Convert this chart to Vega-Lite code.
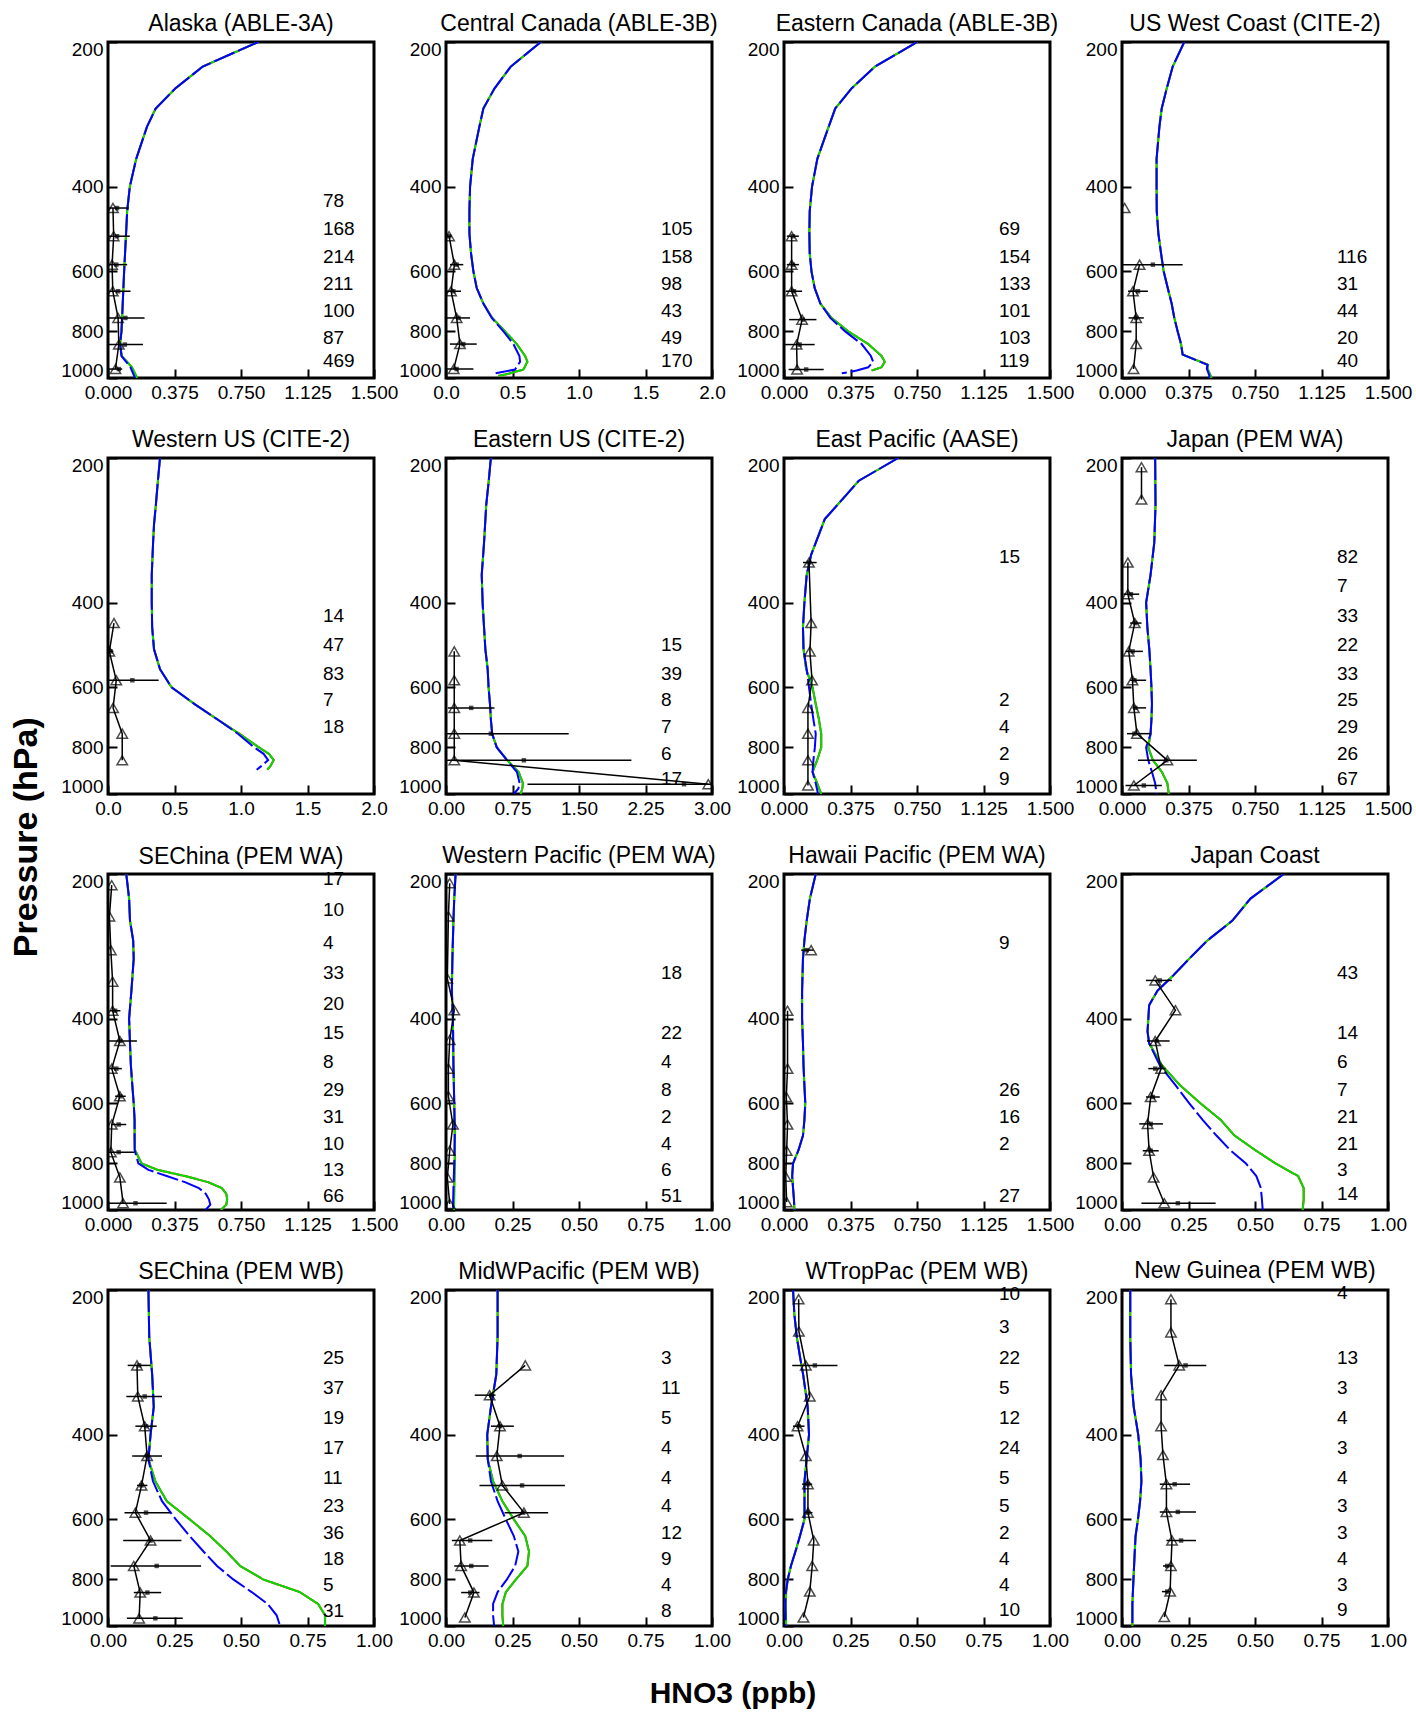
{
"$schema": "https://vega.github.io/schema/vega-lite/v6.json",
"padding": {"left": 10, "top": 11, "right": 5, "bottom": 5},
"autosize": {"type": "pad"},
"title": {"text": "Pressure (hPa)", "orient": "left", "anchor": "middle", "fontSize": 34, "fontWeight": "bold", "offset": 15, "dx": 24},
"datasets": {
"meta": [
{"id":1,"date":"Jul,1988"},{"id":2,"date":"Jul,1990"},{"id":3,"date":"Jul,1990"},{"id":4,"date":"Aug,1986"},
{"id":5,"date":"Aug,1986"},{"id":6,"date":"Aug,1986"},{"id":7,"date":"Feb,1989"},{"id":8,"date":"Oct,1991"},
{"id":9,"date":"Oct,1991"},{"id":10,"date":"Oct,1991"},{"id":11,"date":"Oct,1991"},{"id":12,"date":"Feb,1994"},
{"id":13,"date":"Feb,1994"},{"id":14,"date":"Feb,1994"},{"id":15,"date":"Feb,1994"},{"id":16,"date":"Feb,1994"}
],
"model": [
{"id":1,"p":200,"r":0.847,"g":0.847,"b":0.847},{"id":1,"p":225,"r":0.534,"g":0.534,"b":0.534},{"id":1,"p":250,"r":0.379,"g":0.379,"b":0.379},{"id":1,"p":275,"r":0.269,"g":0.269,"b":0.269},{"id":1,"p":300,"r":0.22,"g":0.22,"b":0.22},{"id":1,"p":350,"r":0.159,"g":0.159,"b":0.159},{"id":1,"p":400,"r":0.123,"g":0.123,"b":0.123},{"id":1,"p":450,"r":0.108,"g":0.108,"b":0.108},{"id":1,"p":500,"r":0.102,"g":0.102,"b":0.102},{"id":1,"p":600,"r":0.091,"g":0.091,"b":0.091},{"id":1,"p":700,"r":0.083,"g":0.083,"b":0.083},{"id":1,"p":800,"r":0.076,"g":0.076,"b":0.076},{"id":1,"p":850,"r":0.068,"g":0.068,"b":0.068},{"id":1,"p":900,"r":0.078,"g":0.078,"b":0.076},{"id":1,"p":950,"r":0.135,"g":0.135,"b":0.127},{"id":1,"p":1000,"r":0.165,"g":0.165,"b":0.152},
{"id":2,"p":200,"r":0.713,"g":0.713,"b":0.713},{"id":2,"p":225,"r":0.487,"g":0.487,"b":0.487},{"id":2,"p":250,"r":0.364,"g":0.364,"b":0.364},{"id":2,"p":275,"r":0.281,"g":0.281,"b":0.281},{"id":2,"p":300,"r":0.251,"g":0.251,"b":0.251},{"id":2,"p":350,"r":0.201,"g":0.201,"b":0.201},{"id":2,"p":400,"r":0.181,"g":0.181,"b":0.181},{"id":2,"p":450,"r":0.176,"g":0.176,"b":0.176},{"id":2,"p":500,"r":0.176,"g":0.176,"b":0.176},{"id":2,"p":550,"r":0.188,"g":0.188,"b":0.188},{"id":2,"p":600,"r":0.206,"g":0.206,"b":0.206},{"id":2,"p":650,"r":0.231,"g":0.231,"b":0.231},{"id":2,"p":700,"r":0.281,"g":0.281,"b":0.281},{"id":2,"p":750,"r":0.348,"g":0.348,"b":0.344},{"id":2,"p":800,"r":0.444,"g":0.444,"b":0.432},{"id":2,"p":850,"r":0.532,"g":0.532,"b":0.507},{"id":2,"p":900,"r":0.595,"g":0.595,"b":0.552},{"id":2,"p":925,"r":0.612,"g":0.612,"b":0.557},{"id":2,"p":960,"r":0.582,"g":0.582,"b":0.519},{"id":2,"p":980,"r":0.47,"g":0.47,"b":0.356},{"id":2,"p":990,"r":0.394,"g":0.394,"b":null},
{"id":3,"p":200,"r":0.751,"g":0.751,"b":0.751},{"id":3,"p":225,"r":0.513,"g":0.513,"b":0.513},{"id":3,"p":250,"r":0.38,"g":0.38,"b":0.38},{"id":3,"p":275,"r":0.289,"g":0.289,"b":0.289},{"id":3,"p":300,"r":0.252,"g":0.252,"b":0.252},{"id":3,"p":350,"r":0.188,"g":0.188,"b":0.188},{"id":3,"p":400,"r":0.158,"g":0.158,"b":0.158},{"id":3,"p":450,"r":0.145,"g":0.145,"b":0.145},{"id":3,"p":500,"r":0.143,"g":0.143,"b":0.143},{"id":3,"p":550,"r":0.145,"g":0.145,"b":0.145},{"id":3,"p":600,"r":0.155,"g":0.155,"b":0.155},{"id":3,"p":650,"r":0.173,"g":0.173,"b":0.173},{"id":3,"p":700,"r":0.205,"g":0.205,"b":0.205},{"id":3,"p":750,"r":0.268,"g":0.268,"b":0.261},{"id":3,"p":800,"r":0.363,"g":0.363,"b":0.345},{"id":3,"p":850,"r":0.475,"g":0.475,"b":0.438},{"id":3,"p":900,"r":0.55,"g":0.55,"b":0.49},{"id":3,"p":925,"r":0.568,"g":0.568,"b":0.503},{"id":3,"p":950,"r":0.55,"g":0.55,"b":0.475},{"id":3,"p":965,"r":0.494,"g":0.494,"b":0.41},{"id":3,"p":978,"r":null,"g":null,"b":0.326},
{"id":4,"p":200,"r":0.351,"g":0.351,"b":0.351},{"id":4,"p":225,"r":0.286,"g":0.286,"b":0.286},{"id":4,"p":250,"r":0.252,"g":0.252,"b":0.252},{"id":4,"p":275,"r":0.224,"g":0.224,"b":0.224},{"id":4,"p":300,"r":0.211,"g":0.211,"b":0.211},{"id":4,"p":350,"r":0.195,"g":0.195,"b":0.195},{"id":4,"p":400,"r":0.195,"g":0.195,"b":0.195},{"id":4,"p":450,"r":0.196,"g":0.196,"b":0.196},{"id":4,"p":500,"r":0.205,"g":0.205,"b":0.205},{"id":4,"p":550,"r":0.22,"g":0.22,"b":0.22},{"id":4,"p":600,"r":0.235,"g":0.235,"b":0.235},{"id":4,"p":650,"r":0.258,"g":0.258,"b":0.258},{"id":4,"p":700,"r":0.28,"g":0.28,"b":0.28},{"id":4,"p":750,"r":0.295,"g":0.295,"b":0.295},{"id":4,"p":800,"r":0.314,"g":0.314,"b":0.314},{"id":4,"p":850,"r":0.333,"g":0.333,"b":0.333},{"id":4,"p":894,"r":0.342,"g":0.342,"b":0.342},{"id":4,"p":939,"r":0.485,"g":0.485,"b":0.482},{"id":4,"p":955,"r":0.482,"g":0.482,"b":0.478},{"id":4,"p":990,"r":0.5,"g":0.5,"b":0.493},{"id":4,"p":1000,"r":0.505,"g":0.505,"b":0.49},
{"id":5,"p":200,"r":0.391,"g":0.391,"b":0.391},{"id":5,"p":225,"r":0.374,"g":0.374,"b":0.374},{"id":5,"p":250,"r":0.36,"g":0.36,"b":0.36},{"id":5,"p":275,"r":0.346,"g":0.346,"b":0.346},{"id":5,"p":300,"r":0.339,"g":0.339,"b":0.339},{"id":5,"p":350,"r":0.329,"g":0.329,"b":0.329},{"id":5,"p":400,"r":0.329,"g":0.329,"b":0.329},{"id":5,"p":450,"r":0.332,"g":0.332,"b":0.332},{"id":5,"p":500,"r":0.346,"g":0.346,"b":0.346},{"id":5,"p":550,"r":0.391,"g":0.391,"b":0.391},{"id":5,"p":600,"r":0.478,"g":0.478,"b":0.478},{"id":5,"p":650,"r":0.651,"g":0.651,"b":0.651},{"id":5,"p":700,"r":0.824,"g":0.824,"b":0.824},{"id":5,"p":750,"r":0.99,"g":0.99,"b":0.979},{"id":5,"p":800,"r":1.135,"g":1.135,"b":1.1},{"id":5,"p":825,"r":1.21,"g":1.21,"b":1.17},{"id":5,"p":850,"r":1.246,"g":1.246,"b":1.204},{"id":5,"p":875,"r":1.221,"g":1.221,"b":1.152},{"id":5,"p":890,"r":1.197,"g":1.197,"b":1.118},
{"id":6,"p":200,"r":0.506,"g":0.506,"b":0.506},{"id":6,"p":225,"r":0.48,"g":0.48,"b":0.48},{"id":6,"p":250,"r":0.454,"g":0.454,"b":0.454},{"id":6,"p":300,"r":0.429,"g":0.429,"b":0.429},{"id":6,"p":350,"r":0.403,"g":0.403,"b":0.403},{"id":6,"p":400,"r":0.413,"g":0.413,"b":0.413},{"id":6,"p":450,"r":0.429,"g":0.429,"b":0.429},{"id":6,"p":500,"r":0.444,"g":0.444,"b":0.444},{"id":6,"p":550,"r":0.47,"g":0.47,"b":0.47},{"id":6,"p":600,"r":0.48,"g":0.48,"b":0.48},{"id":6,"p":650,"r":0.496,"g":0.496,"b":0.496},{"id":6,"p":700,"r":0.506,"g":0.506,"b":0.506},{"id":6,"p":750,"r":0.521,"g":0.521,"b":0.521},{"id":6,"p":800,"r":0.573,"g":0.573,"b":0.573},{"id":6,"p":850,"r":0.69,"g":0.69,"b":0.687},{"id":6,"p":900,"r":0.82,"g":0.82,"b":0.8},{"id":6,"p":950,"r":0.867,"g":0.867,"b":0.831},{"id":6,"p":975,"r":0.86,"g":0.86,"b":0.816},{"id":6,"p":1000,"r":0.842,"g":0.842,"b":0.764},
{"id":7,"p":200,"r":0.644,"g":0.644,"b":0.644},{"id":7,"p":223,"r":0.422,"g":0.422,"b":0.422},{"id":7,"p":268,"r":0.23,"g":0.23,"b":0.23},{"id":7,"p":318,"r":0.153,"g":0.153,"b":0.153},{"id":7,"p":350,"r":0.128,"g":0.128,"b":0.128},{"id":7,"p":400,"r":0.115,"g":0.115,"b":0.115},{"id":7,"p":450,"r":0.107,"g":0.107,"b":0.107},{"id":7,"p":500,"r":0.11,"g":0.11,"b":0.11},{"id":7,"p":550,"r":0.125,"g":0.125,"b":0.128},{"id":7,"p":600,"r":0.161,"g":0.161,"b":0.141},{"id":7,"p":650,"r":0.179,"g":0.179,"b":0.153},{"id":7,"p":700,"r":0.197,"g":0.197,"b":0.166},{"id":7,"p":750,"r":0.21,"g":0.21,"b":0.179},{"id":7,"p":800,"r":0.21,"g":0.21,"b":0.174},{"id":7,"p":850,"r":0.187,"g":0.187,"b":0.166},{"id":7,"p":900,"r":0.161,"g":0.161,"b":0.161},{"id":7,"p":950,"r":0.187,"g":0.187,"b":0.179},{"id":7,"p":1000,"r":0.21,"g":0.21,"b":0.192},
{"id":8,"p":200,"r":0.187,"g":0.187,"b":0.187},{"id":8,"p":250,"r":0.189,"g":0.189,"b":0.189},{"id":8,"p":300,"r":0.182,"g":0.182,"b":0.182},{"id":8,"p":350,"r":0.161,"g":0.161,"b":0.161},{"id":8,"p":400,"r":0.136,"g":0.136,"b":0.136},{"id":8,"p":450,"r":0.143,"g":0.143,"b":0.143},{"id":8,"p":500,"r":0.154,"g":0.154,"b":0.154},{"id":8,"p":550,"r":0.161,"g":0.161,"b":0.161},{"id":8,"p":600,"r":0.166,"g":0.166,"b":0.166},{"id":8,"p":650,"r":0.169,"g":0.169,"b":0.169},{"id":8,"p":700,"r":0.166,"g":0.166,"b":0.166},{"id":8,"p":750,"r":0.161,"g":0.161,"b":0.161},{"id":8,"p":800,"r":0.148,"g":0.148,"b":0.136},{"id":8,"p":850,"r":0.174,"g":0.174,"b":0.148},{"id":8,"p":900,"r":0.225,"g":0.225,"b":0.169},{"id":8,"p":950,"r":0.256,"g":0.256,"b":0.187},{"id":8,"p":1000,"r":0.264,"g":0.264,"b":0.195},
{"id":9,"p":200,"r":0.103,"g":0.103,"b":0.103},{"id":9,"p":225,"r":0.119,"g":0.119,"b":0.119},{"id":9,"p":250,"r":0.124,"g":0.124,"b":0.124},{"id":9,"p":275,"r":0.142,"g":0.142,"b":0.142},{"id":9,"p":300,"r":0.145,"g":0.145,"b":0.145},{"id":9,"p":350,"r":0.132,"g":0.132,"b":0.132},{"id":9,"p":400,"r":0.119,"g":0.119,"b":0.119},{"id":9,"p":450,"r":0.124,"g":0.124,"b":0.124},{"id":9,"p":500,"r":0.129,"g":0.129,"b":0.129},{"id":9,"p":550,"r":0.137,"g":0.137,"b":0.137},{"id":9,"p":600,"r":0.145,"g":0.145,"b":0.145},{"id":9,"p":650,"r":0.15,"g":0.15,"b":0.15},{"id":9,"p":700,"r":0.15,"g":0.15,"b":0.15},{"id":9,"p":750,"r":0.152,"g":0.152,"b":0.15},{"id":9,"p":800,"r":0.189,"g":0.189,"b":0.171},{"id":9,"p":825,"r":0.279,"g":0.279,"b":0.228},{"id":9,"p":850,"r":0.434,"g":0.434,"b":0.331},{"id":9,"p":875,"r":0.564,"g":0.564,"b":0.434},{"id":9,"p":900,"r":0.641,"g":0.641,"b":0.512},{"id":9,"p":925,"r":0.667,"g":0.667,"b":0.551},{"id":9,"p":950,"r":0.672,"g":0.672,"b":0.569},{"id":9,"p":975,"r":0.667,"g":0.667,"b":0.577},{"id":9,"p":1000,"r":0.636,"g":0.636,"b":0.55},
{"id":10,"p":200,"r":0.036,"g":0.036,"b":0.036},{"id":10,"p":225,"r":0.031,"g":0.031,"b":0.031},{"id":10,"p":250,"r":0.028,"g":0.028,"b":0.028},{"id":10,"p":300,"r":0.024,"g":0.024,"b":0.024},{"id":10,"p":350,"r":0.022,"g":0.022,"b":0.022},{"id":10,"p":400,"r":0.026,"g":0.026,"b":0.026},{"id":10,"p":500,"r":0.028,"g":0.028,"b":0.028},{"id":10,"p":600,"r":0.031,"g":0.031,"b":0.031},{"id":10,"p":700,"r":0.033,"g":0.033,"b":0.033},{"id":10,"p":800,"r":0.033,"g":0.033,"b":0.031},{"id":10,"p":900,"r":0.031,"g":0.031,"b":0.028},{"id":10,"p":1000,"r":0.03,"g":0.03,"b":0.026},
{"id":11,"p":200,"r":0.179,"g":0.179,"b":0.179},{"id":11,"p":225,"r":0.146,"g":0.146,"b":0.146},{"id":11,"p":250,"r":0.128,"g":0.128,"b":0.128},{"id":11,"p":275,"r":0.115,"g":0.115,"b":0.115},{"id":11,"p":300,"r":0.107,"g":0.107,"b":0.107},{"id":11,"p":350,"r":0.102,"g":0.102,"b":0.102},{"id":11,"p":400,"r":0.102,"g":0.102,"b":0.102},{"id":11,"p":450,"r":0.107,"g":0.107,"b":0.107},{"id":11,"p":500,"r":0.11,"g":0.11,"b":0.11},{"id":11,"p":550,"r":0.115,"g":0.115,"b":0.115},{"id":11,"p":600,"r":0.12,"g":0.12,"b":0.12},{"id":11,"p":650,"r":0.115,"g":0.115,"b":0.115},{"id":11,"p":700,"r":0.107,"g":0.107,"b":0.107},{"id":11,"p":750,"r":0.082,"g":0.082,"b":0.082},{"id":11,"p":800,"r":0.051,"g":0.051,"b":0.051},{"id":11,"p":850,"r":0.046,"g":0.046,"b":0.046},{"id":11,"p":900,"r":0.051,"g":0.051,"b":0.051},{"id":11,"p":950,"r":0.056,"g":0.056,"b":0.056},{"id":11,"p":1000,"r":0.059,"g":0.059,"b":0.059},
{"id":12,"p":200,"r":0.608,"g":0.608,"b":0.608},{"id":12,"p":225,"r":0.483,"g":0.483,"b":0.483},{"id":12,"p":250,"r":0.415,"g":0.415,"b":0.415},{"id":12,"p":275,"r":0.321,"g":0.321,"b":0.321},{"id":12,"p":300,"r":0.253,"g":0.253,"b":0.253},{"id":12,"p":325,"r":0.193,"g":0.193,"b":0.193},{"id":12,"p":350,"r":0.133,"g":0.133,"b":0.133},{"id":12,"p":375,"r":0.102,"g":0.102,"b":0.102},{"id":12,"p":400,"r":0.099,"g":0.099,"b":0.099},{"id":12,"p":425,"r":0.096,"g":0.096,"b":0.096},{"id":12,"p":450,"r":0.102,"g":0.102,"b":0.102},{"id":12,"p":500,"r":0.15,"g":0.15,"b":0.142},{"id":12,"p":550,"r":0.218,"g":0.218,"b":0.201},{"id":12,"p":600,"r":0.295,"g":0.295,"b":0.253},{"id":12,"p":650,"r":0.372,"g":0.372,"b":0.304},{"id":12,"p":700,"r":0.423,"g":0.423,"b":0.355},{"id":12,"p":750,"r":0.5,"g":0.5,"b":0.406},{"id":12,"p":800,"r":0.577,"g":0.577,"b":0.466},{"id":12,"p":850,"r":0.662,"g":0.662,"b":0.505},{"id":12,"p":900,"r":0.683,"g":0.683,"b":0.522},{"id":12,"p":950,"r":0.683,"g":0.683,"b":0.526},{"id":12,"p":1000,"r":0.679,"g":0.679,"b":0.529},
{"id":13,"p":200,"r":0.152,"g":0.152,"b":0.152},{"id":13,"p":250,"r":0.155,"g":0.155,"b":0.155},{"id":13,"p":300,"r":0.166,"g":0.166,"b":0.166},{"id":13,"p":350,"r":0.172,"g":0.172,"b":0.172},{"id":13,"p":400,"r":0.16,"g":0.16,"b":0.16},{"id":13,"p":450,"r":0.152,"g":0.152,"b":0.152},{"id":13,"p":500,"r":0.178,"g":0.178,"b":0.169},{"id":13,"p":550,"r":0.221,"g":0.221,"b":0.203},{"id":13,"p":600,"r":0.307,"g":0.307,"b":0.255},{"id":13,"p":650,"r":0.384,"g":0.384,"b":0.307},{"id":13,"p":700,"r":0.445,"g":0.445,"b":0.359},{"id":13,"p":750,"r":0.497,"g":0.497,"b":0.41},{"id":13,"p":800,"r":0.583,"g":0.583,"b":0.471},{"id":13,"p":850,"r":0.721,"g":0.721,"b":0.54},{"id":13,"p":900,"r":0.79,"g":0.79,"b":0.6},{"id":13,"p":950,"r":0.816,"g":0.816,"b":0.634},{"id":13,"p":1000,"r":0.816,"g":0.816,"b":0.647},
{"id":14,"p":200,"r":0.194,"g":0.194,"b":0.194},{"id":14,"p":250,"r":0.194,"g":0.194,"b":0.194},{"id":14,"p":300,"r":0.189,"g":0.189,"b":0.189},{"id":14,"p":350,"r":0.169,"g":0.169,"b":0.169},{"id":14,"p":400,"r":0.155,"g":0.155,"b":0.155},{"id":14,"p":450,"r":0.157,"g":0.157,"b":0.157},{"id":14,"p":500,"r":0.177,"g":0.177,"b":0.169},{"id":14,"p":550,"r":0.212,"g":0.212,"b":0.194},{"id":14,"p":600,"r":0.255,"g":0.255,"b":0.225},{"id":14,"p":650,"r":0.298,"g":0.298,"b":0.255},{"id":14,"p":700,"r":0.312,"g":0.312,"b":0.272},{"id":14,"p":750,"r":0.306,"g":0.306,"b":0.26},{"id":14,"p":800,"r":0.263,"g":0.263,"b":0.229},{"id":14,"p":850,"r":0.225,"g":0.225,"b":0.194},{"id":14,"p":900,"r":0.212,"g":0.212,"b":0.177},{"id":14,"p":950,"r":0.212,"g":0.212,"b":0.177},{"id":14,"p":1000,"r":0.215,"g":0.215,"b":0.181},
{"id":15,"p":200,"r":0.034,"g":0.034,"b":0.034},{"id":15,"p":225,"r":0.039,"g":0.039,"b":0.039},{"id":15,"p":250,"r":0.048,"g":0.048,"b":0.048},{"id":15,"p":275,"r":0.06,"g":0.06,"b":0.06},{"id":15,"p":300,"r":0.072,"g":0.072,"b":0.072},{"id":15,"p":350,"r":0.089,"g":0.089,"b":0.089},{"id":15,"p":400,"r":0.094,"g":0.094,"b":0.094},{"id":15,"p":450,"r":0.085,"g":0.085,"b":0.085},{"id":15,"p":500,"r":0.077,"g":0.077,"b":0.077},{"id":15,"p":550,"r":0.077,"g":0.077,"b":0.077},{"id":15,"p":600,"r":0.077,"g":0.077,"b":0.077},{"id":15,"p":650,"r":0.06,"g":0.06,"b":0.06},{"id":15,"p":700,"r":0.043,"g":0.043,"b":0.043},{"id":15,"p":750,"r":0.026,"g":0.026,"b":0.026},{"id":15,"p":800,"r":0.014,"g":0.014,"b":0.014},{"id":15,"p":850,"r":0.008,"g":0.008,"b":0.007},{"id":15,"p":900,"r":0.006,"g":0.006,"b":0.005},{"id":15,"p":1000,"r":0.008,"g":0.008,"b":0.007},
{"id":16,"p":200,"r":0.031,"g":0.031,"b":0.031},{"id":16,"p":250,"r":0.031,"g":0.031,"b":0.031},{"id":16,"p":300,"r":0.034,"g":0.034,"b":0.034},{"id":16,"p":350,"r":0.044,"g":0.044,"b":0.044},{"id":16,"p":400,"r":0.061,"g":0.061,"b":0.061},{"id":16,"p":450,"r":0.07,"g":0.07,"b":0.07},{"id":16,"p":500,"r":0.073,"g":0.073,"b":0.073},{"id":16,"p":550,"r":0.068,"g":0.068,"b":0.068},{"id":16,"p":600,"r":0.06,"g":0.06,"b":0.06},{"id":16,"p":650,"r":0.051,"g":0.051,"b":0.051},{"id":16,"p":700,"r":0.048,"g":0.048,"b":0.048},{"id":16,"p":800,"r":0.043,"g":0.043,"b":0.043},{"id":16,"p":900,"r":0.039,"g":0.039,"b":0.039},{"id":16,"p":1000,"r":0.039,"g":0.039,"b":0.039}
],
"obs": [
{"id":1,"p":443,"tri":0.028,"sq":0.051,"lo":-0.015,"hi":0.117},{"id":1,"p":507,"tri":0.032,"sq":0.051,"lo":-0.021,"hi":0.123},{"id":1,"p":581,"tri":0.023,"sq":0.047,"lo":-0.014,"hi":0.108},{"id":1,"p":660,"tri":0.027,"sq":0.057,"lo":-0.013,"hi":0.127},{"id":1,"p":750,"tri":0.057,"sq":0.098,"lo":-0.01,"hi":0.206},{"id":1,"p":852,"tri":0.061,"sq":0.095,"lo":-0.007,"hi":0.197},{"id":1,"p":958,"tri":0.042,"sq":0.061,"lo":0.0,"hi":0.08},
{"id":2,"p":507,"tri":0.023,"sq":0.023,"lo":0.003,"hi":0.043},{"id":2,"p":581,"tri":0.063,"sq":0.08,"lo":0.03,"hi":0.13},{"id":2,"p":660,"tri":0.038,"sq":0.055,"lo":-0.003,"hi":0.113},{"id":2,"p":750,"tri":0.08,"sq":0.093,"lo":0.005,"hi":0.181},{"id":2,"p":850,"tri":0.105,"sq":0.13,"lo":0.029,"hi":0.231},{"id":2,"p":958,"tri":0.058,"sq":0.08,"lo":-0.046,"hi":0.206},
{"id":3,"p":507,"tri":0.043,"sq":0.05,"lo":0.016,"hi":0.084},{"id":3,"p":581,"tri":0.043,"sq":0.05,"lo":0.016,"hi":0.084},{"id":3,"p":660,"tri":0.043,"sq":0.056,"lo":0.01,"hi":0.102},{"id":3,"p":756,"tri":0.102,"sq":0.106,"lo":0.029,"hi":0.183},{"id":3,"p":852,"tri":0.071,"sq":0.088,"lo":0.003,"hi":0.173},{"id":3,"p":960,"tri":0.074,"sq":0.125,"lo":0.026,"hi":0.224},
{"id":4,"seg":1,"p":443,"tri":0.015},{"id":4,"seg":2,"p":581,"tri":0.099,"sq":0.174,"lo":0.006,"hi":0.342},{"id":4,"seg":2,"p":660,"tri":0.062,"sq":0.09,"lo":0.034,"hi":0.146},{"id":4,"seg":2,"p":750,"tri":0.08,"sq":0.08,"lo":0.037,"hi":0.123},{"id":4,"seg":2,"p":850,"tri":0.08},{"id":4,"seg":2,"p":958,"tri":0.065},
{"id":5,"p":441,"tri":0.045},{"id":5,"p":505,"tri":0.01,"sq":0.02,"lo":0.0,"hi":0.04},{"id":5,"p":580,"tri":0.062,"sq":0.183,"lo":-0.015,"hi":0.381},{"id":5,"p":662,"tri":0.038},{"id":5,"p":749,"tri":0.107},{"id":5,"p":851,"tri":0.107},
{"id":6,"p":505,"tri":0.093},{"id":6,"p":580,"tri":0.093},{"id":6,"p":662,"tri":0.093,"sq":0.284,"lo":0.021,"hi":0.547},{"id":6,"p":749,"tri":0.093,"sq":0.506,"lo":-0.372,"hi":1.384},{"id":6,"p":851,"tri":0.093,"sq":0.878,"lo":-0.335,"hi":2.091},{"id":6,"p":954,"tri":2.958,"sq":2.685,"lo":0.919,"hi":4.45},
{"id":7,"p":330,"tri":0.141,"sq":0.141,"lo":0.107,"hi":0.184},{"id":7,"p":441,"tri":0.153},{"id":7,"p":505,"tri":0.146},{"id":7,"p":580,"tri":0.158},{"id":7,"p":662,"tri":0.135},{"id":7,"p":749,"tri":0.135},{"id":7,"p":851,"tri":0.135},{"id":7,"p":960,"tri":0.135},
{"id":8,"seg":1,"p":209,"tri":0.11},{"id":8,"seg":1,"p":244,"tri":0.11},{"id":8,"seg":2,"p":330,"tri":0.033},{"id":8,"seg":2,"p":384,"tri":0.033,"sq":0.05,"lo":0.008,"hi":0.097},{"id":8,"seg":2,"p":441,"tri":0.072,"sq":0.075,"lo":0.046,"hi":0.11},{"id":8,"seg":2,"p":505,"tri":0.038,"sq":0.06,"lo":0.02,"hi":0.118},{"id":8,"seg":2,"p":580,"tri":0.059,"sq":0.07,"lo":0.046,"hi":0.136},{"id":8,"seg":2,"p":662,"tri":0.067,"sq":0.075,"lo":0.059,"hi":0.136},{"id":8,"seg":2,"p":749,"tri":0.084,"sq":0.07,"lo":0.028,"hi":0.161},{"id":8,"seg":2,"p":851,"tri":0.256,"sq":0.25,"lo":0.09,"hi":0.422},{"id":8,"seg":2,"p":960,"tri":0.067,"sq":0.123,"lo":0.02,"hi":0.225},
{"id":9,"p":211,"tri":0.021},{"id":9,"p":245,"tri":0.008},{"id":9,"p":288,"tri":0.016},{"id":9,"p":335,"tri":0.026},{"id":9,"p":385,"tri":0.026,"sq":0.04,"lo":0.01,"hi":0.07},{"id":9,"p":445,"tri":0.067,"sq":0.07,"lo":-0.02,"hi":0.163},{"id":9,"p":508,"tri":0.021,"sq":0.047,"lo":0.01,"hi":0.078},{"id":9,"p":580,"tri":0.067,"sq":0.07,"lo":0.04,"hi":0.1},{"id":9,"p":664,"tri":0.021,"sq":0.06,"lo":0.02,"hi":0.103},{"id":9,"p":758,"tri":0.016,"sq":0.06,"lo":-0.03,"hi":0.15},{"id":9,"p":856,"tri":0.067},{"id":9,"p":968,"tri":0.085,"sq":0.155,"lo":-0.02,"hi":0.331},
{"id":10,"p":209,"tri":0.014},{"id":10,"p":245,"tri":0.009},{"id":10,"p":330,"tri":0.005},{"id":10,"p":384,"tri":0.031},{"id":10,"p":443,"tri":0.014},{"id":10,"p":508,"tri":0.009},{"id":10,"p":580,"tri":0.009},{"id":10,"p":664,"tri":0.026},{"id":10,"p":753,"tri":0.014},{"id":10,"p":856,"tri":0.005},{"id":10,"p":971,"tri":0.014},
{"id":11,"seg":1,"p":288,"tri":0.153,"sq":0.128,"lo":0.097,"hi":0.166},{"id":11,"seg":2,"p":385,"tri":0.02},{"id":11,"seg":2,"p":508,"tri":0.02},{"id":11,"seg":2,"p":582,"tri":0.013},{"id":11,"seg":2,"p":664,"tri":0.02},{"id":11,"seg":2,"p":753,"tri":0.015},{"id":11,"seg":2,"p":853,"tri":0.01},{"id":11,"seg":2,"p":963,"tri":0.015},
{"id":12,"p":333,"tri":0.125,"sq":0.142,"lo":0.09,"hi":0.188},{"id":12,"p":384,"tri":0.201},{"id":12,"p":445,"tri":0.125,"sq":0.13,"lo":0.094,"hi":0.179},{"id":12,"p":508,"tri":0.147,"sq":0.125,"lo":0.099,"hi":0.164},{"id":12,"p":582,"tri":0.108,"sq":0.116,"lo":0.09,"hi":0.142},{"id":12,"p":662,"tri":0.096,"sq":0.108,"lo":0.065,"hi":0.154},{"id":12,"p":753,"tri":0.102,"sq":0.108,"lo":0.078,"hi":0.138},{"id":12,"p":856,"tri":0.119},{"id":12,"p":968,"tri":0.159,"sq":0.21,"lo":0.073,"hi":0.352},
{"id":13,"p":287,"tri":0.109,"sq":0.117,"lo":0.074,"hi":0.16},{"id":13,"p":333,"tri":0.112,"sq":0.138,"lo":0.069,"hi":0.203},{"id":13,"p":384,"tri":0.138,"sq":0.143,"lo":0.103,"hi":0.183},{"id":13,"p":443,"tri":0.147,"sq":0.147,"lo":0.091,"hi":0.203},{"id":13,"p":510,"tri":0.126,"sq":0.126,"lo":0.109,"hi":0.148},{"id":13,"p":581,"tri":0.103,"sq":0.143,"lo":0.062,"hi":0.234},{"id":13,"p":664,"tri":0.16,"sq":0.16,"lo":0.057,"hi":0.276},{"id":13,"p":750,"tri":0.097,"sq":0.183,"lo":0.01,"hi":0.35},{"id":13,"p":852,"tri":0.121,"sq":0.148,"lo":0.097,"hi":0.2},{"id":13,"p":964,"tri":0.117,"sq":0.178,"lo":0.071,"hi":0.281},
{"id":14,"p":287,"tri":0.298},{"id":14,"p":331,"tri":0.164,"sq":0.17,"lo":0.108,"hi":0.186},{"id":14,"p":384,"tri":0.203,"sq":0.203,"lo":0.169,"hi":0.255},{"id":14,"p":443,"tri":0.191,"sq":0.277,"lo":0.112,"hi":0.444},{"id":14,"p":510,"tri":0.212,"sq":0.286,"lo":0.126,"hi":0.447},{"id":14,"p":581,"tri":0.293,"sq":0.29,"lo":0.22,"hi":0.384},{"id":14,"p":664,"tri":0.052,"sq":0.091,"lo":0.022,"hi":0.174},{"id":14,"p":750,"tri":0.057,"sq":0.095,"lo":0.031,"hi":0.16},{"id":14,"p":852,"tri":0.105,"sq":0.091,"lo":0.057,"hi":0.126},{"id":14,"p":960,"tri":0.071},
{"id":15,"p":209,"tri":0.055},{"id":15,"p":244,"tri":0.056},{"id":15,"p":287,"tri":0.082,"sq":0.116,"lo":0.031,"hi":0.201},{"id":15,"p":333,"tri":0.097},{"id":15,"p":384,"tri":0.051,"sq":0.055,"lo":0.034,"hi":0.077},{"id":15,"p":443,"tri":0.082},{"id":15,"p":507,"tri":0.09,"sq":0.09,"lo":0.068,"hi":0.106},{"id":15,"p":581,"tri":0.09,"sq":0.09,"lo":0.077,"hi":0.107},{"id":15,"p":664,"tri":0.112},{"id":15,"p":750,"tri":0.106},{"id":15,"p":848,"tri":0.097},{"id":15,"p":960,"tri":0.073},
{"id":16,"p":209,"tri":0.184},{"id":16,"p":245,"tri":0.184},{"id":16,"p":287,"tri":0.215,"sq":0.239,"lo":0.159,"hi":0.317},{"id":16,"p":331,"tri":0.147},{"id":16,"p":384,"tri":0.147},{"id":16,"p":441,"tri":0.154},{"id":16,"p":507,"tri":0.167,"sq":0.198,"lo":0.142,"hi":0.256},{"id":16,"p":579,"tri":0.167,"sq":0.21,"lo":0.142,"hi":0.278},{"id":16,"p":664,"tri":0.188,"sq":0.222,"lo":0.167,"hi":0.278},{"id":16,"p":750,"tri":0.184,"sq":0.17,"lo":0.154,"hi":0.193},{"id":16,"p":848,"tri":0.181,"sq":0.17,"lo":0.15,"hi":0.184},{"id":16,"p":958,"tri":0.159}
],
"counts": [
{"id":1,"p":428,"n":78},{"id":1,"p":490,"n":168},{"id":1,"p":560,"n":214},{"id":1,"p":637,"n":211},{"id":1,"p":726,"n":100},{"id":1,"p":824,"n":87},{"id":1,"p":922,"n":469},
{"id":2,"p":490,"n":105},{"id":2,"p":560,"n":158},{"id":2,"p":637,"n":98},{"id":2,"p":726,"n":43},{"id":2,"p":824,"n":49},{"id":2,"p":922,"n":170},
{"id":3,"p":490,"n":69},{"id":3,"p":560,"n":154},{"id":3,"p":637,"n":133},{"id":3,"p":726,"n":101},{"id":3,"p":824,"n":103},{"id":3,"p":922,"n":119},
{"id":4,"p":560,"n":116},{"id":4,"p":637,"n":31},{"id":4,"p":726,"n":44},{"id":4,"p":824,"n":20},{"id":4,"p":922,"n":40},
{"id":5,"p":427,"n":14},{"id":5,"p":489,"n":47},{"id":5,"p":562,"n":83},{"id":5,"p":638,"n":7},{"id":5,"p":725,"n":18},
{"id":6,"p":489,"n":15},{"id":6,"p":562,"n":39},{"id":6,"p":638,"n":8},{"id":6,"p":725,"n":7},{"id":6,"p":824,"n":6},{"id":6,"p":930,"n":17},
{"id":7,"p":322,"n":15},{"id":7,"p":638,"n":2},{"id":7,"p":725,"n":4},{"id":7,"p":824,"n":2},{"id":7,"p":930,"n":9},
{"id":8,"p":322,"n":82},{"id":8,"p":370,"n":7},{"id":8,"p":427,"n":33},{"id":8,"p":489,"n":22},{"id":8,"p":562,"n":33},{"id":8,"p":638,"n":25},{"id":8,"p":725,"n":29},{"id":8,"p":824,"n":26},{"id":8,"p":930,"n":67},
{"id":9,"p":205,"n":17},{"id":9,"p":238,"n":10},{"id":9,"p":278,"n":4},{"id":9,"p":322,"n":33},{"id":9,"p":372,"n":20},{"id":9,"p":429,"n":15},{"id":9,"p":492,"n":8},{"id":9,"p":564,"n":29},{"id":9,"p":640,"n":31},{"id":9,"p":728,"n":10},{"id":9,"p":826,"n":13},{"id":9,"p":933,"n":66},
{"id":10,"p":322,"n":18},{"id":10,"p":429,"n":22},{"id":10,"p":492,"n":4},{"id":10,"p":564,"n":8},{"id":10,"p":640,"n":2},{"id":10,"p":728,"n":4},{"id":10,"p":826,"n":6},{"id":10,"p":933,"n":51},
{"id":11,"p":279,"n":9},{"id":11,"p":564,"n":26},{"id":11,"p":642,"n":16},{"id":11,"p":728,"n":2},{"id":11,"p":933,"n":27},
{"id":12,"p":322,"n":43},{"id":12,"p":429,"n":14},{"id":12,"p":492,"n":6},{"id":12,"p":564,"n":7},{"id":12,"p":640,"n":21},{"id":12,"p":728,"n":21},{"id":12,"p":826,"n":3},{"id":12,"p":928,"n":14},
{"id":13,"p":277,"n":25},{"id":13,"p":320,"n":37},{"id":13,"p":370,"n":19},{"id":13,"p":427,"n":17},{"id":13,"p":491,"n":11},{"id":13,"p":563,"n":23},{"id":13,"p":642,"n":36},{"id":13,"p":727,"n":18},{"id":13,"p":822,"n":5},{"id":13,"p":930,"n":31},
{"id":14,"p":277,"n":3},{"id":14,"p":320,"n":11},{"id":14,"p":370,"n":5},{"id":14,"p":427,"n":4},{"id":14,"p":491,"n":4},{"id":14,"p":563,"n":4},{"id":14,"p":642,"n":12},{"id":14,"p":727,"n":9},{"id":14,"p":822,"n":4},{"id":14,"p":930,"n":8},
{"id":15,"p":204,"n":10},{"id":15,"p":239,"n":3},{"id":15,"p":277,"n":22},{"id":15,"p":320,"n":5},{"id":15,"p":370,"n":12},{"id":15,"p":427,"n":24},{"id":15,"p":491,"n":5},{"id":15,"p":563,"n":5},{"id":15,"p":639,"n":2},{"id":15,"p":724,"n":4},{"id":15,"p":822,"n":4},{"id":15,"p":926,"n":10},
{"id":16,"p":203,"n":4},{"id":16,"p":277,"n":13},{"id":16,"p":320,"n":3},{"id":16,"p":370,"n":4},{"id":16,"p":427,"n":3},{"id":16,"p":491,"n":4},{"id":16,"p":563,"n":3},{"id":16,"p":639,"n":3},{"id":16,"p":724,"n":4},{"id":16,"p":822,"n":3},{"id":16,"p":926,"n":9}
]
},
"spacing": 25,
"vconcat": [
{"columns": 4, "spacing": {"row": 80, "column": 72}, "bounds": "flush", "concat": [
{"width":266,"height":336,"title":"Alaska (ABLE-3A)","encoding":{"y":{"field":"p","type":"quantitative","scale":{"type":"log","domain":[200,1000],"reverse":true,"nice":false},"axis":{"values":[200,400,600,800,1000],"format":"d","labelFlush":true,"title":null}}},"layer":[
{"data":{"name":"model"},"transform":[{"filter":"datum.id==1"},{"fold":["r","g","b"],"as":["k","v"]}],"mark":{"type":"line","strokeWidth":2,"clip":true},"encoding":{"x":{"field":"v","type":"quantitative","scale":{"domain":[0,1.5],"nice":false},"axis":{"values":[0,0.375,0.75,1.125,1.5],"format":".3f","title":null,"labelFlush":false}},"color":{"field":"k","type":"nominal","scale":{"domain":["r","g","b"],"range":["#ff0000","#00dd00","#0000ff"]},"legend":null},"strokeDash":{"field":"k","type":"nominal","scale":{"domain":["r","g","b"],"range":[[1,0],[1,0],[22,4]]},"legend":null},"order":{"field":"p"}}},
{"data":{"name":"obs"},"transform":[{"filter":"datum.id==1"}],"mark":{"type":"rule","color":"black","strokeWidth":1.5,"clip":true},"encoding":{"x":{"field":"lo","type":"quantitative"},"x2":{"field":"hi"}}},
{"data":{"name":"obs"},"transform":[{"filter":"datum.id==1"}],"mark":{"type":"line","color":"black","strokeWidth":1.5,"clip":true},"encoding":{"x":{"field":"tri","type":"quantitative"},"detail":{"field":"seg","type":"nominal"},"order":{"field":"p"}}},
{"data":{"name":"obs"},"transform":[{"filter":"datum.id==1"}],"mark":{"type":"point","shape":"triangle-up","filled":false,"color":"black","size":110,"strokeWidth":1.5,"clip":true},"encoding":{"x":{"field":"tri","type":"quantitative"}}},
{"data":{"name":"obs"},"transform":[{"filter":"datum.id==1"}],"mark":{"type":"square","color":"black","size":20,"filled":true,"clip":true},"encoding":{"x":{"field":"sq","type":"quantitative"}}},
{"data":{"name":"counts"},"transform":[{"filter":"datum.id==1"}],"mark":{"type":"text","align":"left","baseline":"middle","fontSize":19},"encoding":{"x":{"datum":1.212},"text":{"field":"n"}}},
{"data":{"name":"meta"},"transform":[{"filter":"datum.id==1"}],"mark":{"type":"text","align":"left","baseline":"middle","fontSize":21},"encoding":{"x":{"datum":0.75},"y":{"datum":221},"text":{"field":"date"}}}
]},
{"width":266,"height":336,"title":"Central Canada (ABLE-3B)","encoding":{"y":{"field":"p","type":"quantitative","scale":{"type":"log","domain":[200,1000],"reverse":true,"nice":false},"axis":{"values":[200,400,600,800,1000],"format":"d","labelFlush":true,"title":null}}},"layer":[
{"data":{"name":"model"},"transform":[{"filter":"datum.id==2"},{"fold":["r","g","b"],"as":["k","v"]}],"mark":{"type":"line","strokeWidth":2,"clip":true},"encoding":{"x":{"field":"v","type":"quantitative","scale":{"domain":[0,2],"nice":false},"axis":{"values":[0,0.5,1,1.5,2],"format":".1f","title":null,"labelFlush":false}},"color":{"field":"k","type":"nominal","scale":{"domain":["r","g","b"],"range":["#ff0000","#00dd00","#0000ff"]},"legend":null},"strokeDash":{"field":"k","type":"nominal","scale":{"domain":["r","g","b"],"range":[[1,0],[1,0],[22,4]]},"legend":null},"order":{"field":"p"}}},
{"data":{"name":"obs"},"transform":[{"filter":"datum.id==2"}],"mark":{"type":"rule","color":"black","strokeWidth":1.5,"clip":true},"encoding":{"x":{"field":"lo","type":"quantitative"},"x2":{"field":"hi"}}},
{"data":{"name":"obs"},"transform":[{"filter":"datum.id==2"}],"mark":{"type":"line","color":"black","strokeWidth":1.5,"clip":true},"encoding":{"x":{"field":"tri","type":"quantitative"},"detail":{"field":"seg","type":"nominal"},"order":{"field":"p"}}},
{"data":{"name":"obs"},"transform":[{"filter":"datum.id==2"}],"mark":{"type":"point","shape":"triangle-up","filled":false,"color":"black","size":110,"strokeWidth":1.5,"clip":true},"encoding":{"x":{"field":"tri","type":"quantitative"}}},
{"data":{"name":"obs"},"transform":[{"filter":"datum.id==2"}],"mark":{"type":"square","color":"black","size":20,"filled":true,"clip":true},"encoding":{"x":{"field":"sq","type":"quantitative"}}},
{"data":{"name":"counts"},"transform":[{"filter":"datum.id==2"}],"mark":{"type":"text","align":"left","baseline":"middle","fontSize":19},"encoding":{"x":{"datum":1.616},"text":{"field":"n"}}},
{"data":{"name":"meta"},"transform":[{"filter":"datum.id==2"}],"mark":{"type":"text","align":"left","baseline":"middle","fontSize":21},"encoding":{"x":{"datum":1.0},"y":{"datum":221},"text":{"field":"date"}}}
]},
{"width":266,"height":336,"title":"Eastern Canada (ABLE-3B)","encoding":{"y":{"field":"p","type":"quantitative","scale":{"type":"log","domain":[200,1000],"reverse":true,"nice":false},"axis":{"values":[200,400,600,800,1000],"format":"d","labelFlush":true,"title":null}}},"layer":[
{"data":{"name":"model"},"transform":[{"filter":"datum.id==3"},{"fold":["r","g","b"],"as":["k","v"]}],"mark":{"type":"line","strokeWidth":2,"clip":true},"encoding":{"x":{"field":"v","type":"quantitative","scale":{"domain":[0,1.5],"nice":false},"axis":{"values":[0,0.375,0.75,1.125,1.5],"format":".3f","title":null,"labelFlush":false}},"color":{"field":"k","type":"nominal","scale":{"domain":["r","g","b"],"range":["#ff0000","#00dd00","#0000ff"]},"legend":null},"strokeDash":{"field":"k","type":"nominal","scale":{"domain":["r","g","b"],"range":[[1,0],[1,0],[22,4]]},"legend":null},"order":{"field":"p"}}},
{"data":{"name":"obs"},"transform":[{"filter":"datum.id==3"}],"mark":{"type":"rule","color":"black","strokeWidth":1.5,"clip":true},"encoding":{"x":{"field":"lo","type":"quantitative"},"x2":{"field":"hi"}}},
{"data":{"name":"obs"},"transform":[{"filter":"datum.id==3"}],"mark":{"type":"line","color":"black","strokeWidth":1.5,"clip":true},"encoding":{"x":{"field":"tri","type":"quantitative"},"detail":{"field":"seg","type":"nominal"},"order":{"field":"p"}}},
{"data":{"name":"obs"},"transform":[{"filter":"datum.id==3"}],"mark":{"type":"point","shape":"triangle-up","filled":false,"color":"black","size":110,"strokeWidth":1.5,"clip":true},"encoding":{"x":{"field":"tri","type":"quantitative"}}},
{"data":{"name":"obs"},"transform":[{"filter":"datum.id==3"}],"mark":{"type":"square","color":"black","size":20,"filled":true,"clip":true},"encoding":{"x":{"field":"sq","type":"quantitative"}}},
{"data":{"name":"counts"},"transform":[{"filter":"datum.id==3"}],"mark":{"type":"text","align":"left","baseline":"middle","fontSize":19},"encoding":{"x":{"datum":1.212},"text":{"field":"n"}}},
{"data":{"name":"meta"},"transform":[{"filter":"datum.id==3"}],"mark":{"type":"text","align":"left","baseline":"middle","fontSize":21},"encoding":{"x":{"datum":0.75},"y":{"datum":221},"text":{"field":"date"}}}
]},
{"width":266,"height":336,"title":"US West Coast (CITE-2)","encoding":{"y":{"field":"p","type":"quantitative","scale":{"type":"log","domain":[200,1000],"reverse":true,"nice":false},"axis":{"values":[200,400,600,800,1000],"format":"d","labelFlush":true,"title":null}}},"layer":[
{"data":{"name":"model"},"transform":[{"filter":"datum.id==4"},{"fold":["r","g","b"],"as":["k","v"]}],"mark":{"type":"line","strokeWidth":2,"clip":true},"encoding":{"x":{"field":"v","type":"quantitative","scale":{"domain":[0,1.5],"nice":false},"axis":{"values":[0,0.375,0.75,1.125,1.5],"format":".3f","title":null,"labelFlush":false}},"color":{"field":"k","type":"nominal","scale":{"domain":["r","g","b"],"range":["#ff0000","#00dd00","#0000ff"]},"legend":null},"strokeDash":{"field":"k","type":"nominal","scale":{"domain":["r","g","b"],"range":[[1,0],[1,0],[22,4]]},"legend":null},"order":{"field":"p"}}},
{"data":{"name":"obs"},"transform":[{"filter":"datum.id==4"}],"mark":{"type":"rule","color":"black","strokeWidth":1.5,"clip":true},"encoding":{"x":{"field":"lo","type":"quantitative"},"x2":{"field":"hi"}}},
{"data":{"name":"obs"},"transform":[{"filter":"datum.id==4"}],"mark":{"type":"line","color":"black","strokeWidth":1.5,"clip":true},"encoding":{"x":{"field":"tri","type":"quantitative"},"detail":{"field":"seg","type":"nominal"},"order":{"field":"p"}}},
{"data":{"name":"obs"},"transform":[{"filter":"datum.id==4"}],"mark":{"type":"point","shape":"triangle-up","filled":false,"color":"black","size":110,"strokeWidth":1.5,"clip":true},"encoding":{"x":{"field":"tri","type":"quantitative"}}},
{"data":{"name":"obs"},"transform":[{"filter":"datum.id==4"}],"mark":{"type":"square","color":"black","size":20,"filled":true,"clip":true},"encoding":{"x":{"field":"sq","type":"quantitative"}}},
{"data":{"name":"counts"},"transform":[{"filter":"datum.id==4"}],"mark":{"type":"text","align":"left","baseline":"middle","fontSize":19},"encoding":{"x":{"datum":1.212},"text":{"field":"n"}}},
{"data":{"name":"meta"},"transform":[{"filter":"datum.id==4"}],"mark":{"type":"text","align":"left","baseline":"middle","fontSize":21},"encoding":{"x":{"datum":0.75},"y":{"datum":221},"text":{"field":"date"}}}
]},
{"width":266,"height":336,"title":"Western US (CITE-2)","encoding":{"y":{"field":"p","type":"quantitative","scale":{"type":"log","domain":[200,1000],"reverse":true,"nice":false},"axis":{"values":[200,400,600,800,1000],"format":"d","labelFlush":true,"title":null}}},"layer":[
{"data":{"name":"model"},"transform":[{"filter":"datum.id==5"},{"fold":["r","g","b"],"as":["k","v"]}],"mark":{"type":"line","strokeWidth":2,"clip":true},"encoding":{"x":{"field":"v","type":"quantitative","scale":{"domain":[0,2],"nice":false},"axis":{"values":[0,0.5,1,1.5,2],"format":".1f","title":null,"labelFlush":false}},"color":{"field":"k","type":"nominal","scale":{"domain":["r","g","b"],"range":["#ff0000","#00dd00","#0000ff"]},"legend":null},"strokeDash":{"field":"k","type":"nominal","scale":{"domain":["r","g","b"],"range":[[1,0],[1,0],[22,4]]},"legend":null},"order":{"field":"p"}}},
{"data":{"name":"obs"},"transform":[{"filter":"datum.id==5"}],"mark":{"type":"rule","color":"black","strokeWidth":1.5,"clip":true},"encoding":{"x":{"field":"lo","type":"quantitative"},"x2":{"field":"hi"}}},
{"data":{"name":"obs"},"transform":[{"filter":"datum.id==5"}],"mark":{"type":"line","color":"black","strokeWidth":1.5,"clip":true},"encoding":{"x":{"field":"tri","type":"quantitative"},"detail":{"field":"seg","type":"nominal"},"order":{"field":"p"}}},
{"data":{"name":"obs"},"transform":[{"filter":"datum.id==5"}],"mark":{"type":"point","shape":"triangle-up","filled":false,"color":"black","size":110,"strokeWidth":1.5,"clip":true},"encoding":{"x":{"field":"tri","type":"quantitative"}}},
{"data":{"name":"obs"},"transform":[{"filter":"datum.id==5"}],"mark":{"type":"square","color":"black","size":20,"filled":true,"clip":true},"encoding":{"x":{"field":"sq","type":"quantitative"}}},
{"data":{"name":"counts"},"transform":[{"filter":"datum.id==5"}],"mark":{"type":"text","align":"left","baseline":"middle","fontSize":19},"encoding":{"x":{"datum":1.616},"text":{"field":"n"}}},
{"data":{"name":"meta"},"transform":[{"filter":"datum.id==5"}],"mark":{"type":"text","align":"left","baseline":"middle","fontSize":21},"encoding":{"x":{"datum":1.0},"y":{"datum":221},"text":{"field":"date"}}}
]},
{"width":266,"height":336,"title":"Eastern US (CITE-2)","encoding":{"y":{"field":"p","type":"quantitative","scale":{"type":"log","domain":[200,1000],"reverse":true,"nice":false},"axis":{"values":[200,400,600,800,1000],"format":"d","labelFlush":true,"title":null}}},"layer":[
{"data":{"name":"model"},"transform":[{"filter":"datum.id==6"},{"fold":["r","g","b"],"as":["k","v"]}],"mark":{"type":"line","strokeWidth":2,"clip":true},"encoding":{"x":{"field":"v","type":"quantitative","scale":{"domain":[0,3],"nice":false},"axis":{"values":[0,0.75,1.5,2.25,3],"format":".2f","title":null,"labelFlush":false}},"color":{"field":"k","type":"nominal","scale":{"domain":["r","g","b"],"range":["#ff0000","#00dd00","#0000ff"]},"legend":null},"strokeDash":{"field":"k","type":"nominal","scale":{"domain":["r","g","b"],"range":[[1,0],[1,0],[22,4]]},"legend":null},"order":{"field":"p"}}},
{"data":{"name":"obs"},"transform":[{"filter":"datum.id==6"}],"mark":{"type":"rule","color":"black","strokeWidth":1.5,"clip":true},"encoding":{"x":{"field":"lo","type":"quantitative"},"x2":{"field":"hi"}}},
{"data":{"name":"obs"},"transform":[{"filter":"datum.id==6"}],"mark":{"type":"line","color":"black","strokeWidth":1.5,"clip":true},"encoding":{"x":{"field":"tri","type":"quantitative"},"detail":{"field":"seg","type":"nominal"},"order":{"field":"p"}}},
{"data":{"name":"obs"},"transform":[{"filter":"datum.id==6"}],"mark":{"type":"point","shape":"triangle-up","filled":false,"color":"black","size":110,"strokeWidth":1.5,"clip":true},"encoding":{"x":{"field":"tri","type":"quantitative"}}},
{"data":{"name":"obs"},"transform":[{"filter":"datum.id==6"}],"mark":{"type":"square","color":"black","size":20,"filled":true,"clip":true},"encoding":{"x":{"field":"sq","type":"quantitative"}}},
{"data":{"name":"counts"},"transform":[{"filter":"datum.id==6"}],"mark":{"type":"text","align":"left","baseline":"middle","fontSize":19},"encoding":{"x":{"datum":2.424},"text":{"field":"n"}}},
{"data":{"name":"meta"},"transform":[{"filter":"datum.id==6"}],"mark":{"type":"text","align":"left","baseline":"middle","fontSize":21},"encoding":{"x":{"datum":1.5},"y":{"datum":221},"text":{"field":"date"}}}
]},
{"width":266,"height":336,"title":"East Pacific (AASE)","encoding":{"y":{"field":"p","type":"quantitative","scale":{"type":"log","domain":[200,1000],"reverse":true,"nice":false},"axis":{"values":[200,400,600,800,1000],"format":"d","labelFlush":true,"title":null}}},"layer":[
{"data":{"name":"model"},"transform":[{"filter":"datum.id==7"},{"fold":["r","g","b"],"as":["k","v"]}],"mark":{"type":"line","strokeWidth":2,"clip":true},"encoding":{"x":{"field":"v","type":"quantitative","scale":{"domain":[0,1.5],"nice":false},"axis":{"values":[0,0.375,0.75,1.125,1.5],"format":".3f","title":null,"labelFlush":false}},"color":{"field":"k","type":"nominal","scale":{"domain":["r","g","b"],"range":["#ff0000","#00dd00","#0000ff"]},"legend":null},"strokeDash":{"field":"k","type":"nominal","scale":{"domain":["r","g","b"],"range":[[1,0],[1,0],[22,4]]},"legend":null},"order":{"field":"p"}}},
{"data":{"name":"obs"},"transform":[{"filter":"datum.id==7"}],"mark":{"type":"rule","color":"black","strokeWidth":1.5,"clip":true},"encoding":{"x":{"field":"lo","type":"quantitative"},"x2":{"field":"hi"}}},
{"data":{"name":"obs"},"transform":[{"filter":"datum.id==7"}],"mark":{"type":"line","color":"black","strokeWidth":1.5,"clip":true},"encoding":{"x":{"field":"tri","type":"quantitative"},"detail":{"field":"seg","type":"nominal"},"order":{"field":"p"}}},
{"data":{"name":"obs"},"transform":[{"filter":"datum.id==7"}],"mark":{"type":"point","shape":"triangle-up","filled":false,"color":"black","size":110,"strokeWidth":1.5,"clip":true},"encoding":{"x":{"field":"tri","type":"quantitative"}}},
{"data":{"name":"obs"},"transform":[{"filter":"datum.id==7"}],"mark":{"type":"square","color":"black","size":20,"filled":true,"clip":true},"encoding":{"x":{"field":"sq","type":"quantitative"}}},
{"data":{"name":"counts"},"transform":[{"filter":"datum.id==7"}],"mark":{"type":"text","align":"left","baseline":"middle","fontSize":19},"encoding":{"x":{"datum":1.212},"text":{"field":"n"}}},
{"data":{"name":"meta"},"transform":[{"filter":"datum.id==7"}],"mark":{"type":"text","align":"left","baseline":"middle","fontSize":21},"encoding":{"x":{"datum":0.75},"y":{"datum":221},"text":{"field":"date"}}}
]},
{"width":266,"height":336,"title":"Japan (PEM WA)","encoding":{"y":{"field":"p","type":"quantitative","scale":{"type":"log","domain":[200,1000],"reverse":true,"nice":false},"axis":{"values":[200,400,600,800,1000],"format":"d","labelFlush":true,"title":null}}},"layer":[
{"data":{"name":"model"},"transform":[{"filter":"datum.id==8"},{"fold":["r","g","b"],"as":["k","v"]}],"mark":{"type":"line","strokeWidth":2,"clip":true},"encoding":{"x":{"field":"v","type":"quantitative","scale":{"domain":[0,1.5],"nice":false},"axis":{"values":[0,0.375,0.75,1.125,1.5],"format":".3f","title":null,"labelFlush":false}},"color":{"field":"k","type":"nominal","scale":{"domain":["r","g","b"],"range":["#ff0000","#00dd00","#0000ff"]},"legend":null},"strokeDash":{"field":"k","type":"nominal","scale":{"domain":["r","g","b"],"range":[[1,0],[1,0],[22,4]]},"legend":null},"order":{"field":"p"}}},
{"data":{"name":"obs"},"transform":[{"filter":"datum.id==8"}],"mark":{"type":"rule","color":"black","strokeWidth":1.5,"clip":true},"encoding":{"x":{"field":"lo","type":"quantitative"},"x2":{"field":"hi"}}},
{"data":{"name":"obs"},"transform":[{"filter":"datum.id==8"}],"mark":{"type":"line","color":"black","strokeWidth":1.5,"clip":true},"encoding":{"x":{"field":"tri","type":"quantitative"},"detail":{"field":"seg","type":"nominal"},"order":{"field":"p"}}},
{"data":{"name":"obs"},"transform":[{"filter":"datum.id==8"}],"mark":{"type":"point","shape":"triangle-up","filled":false,"color":"black","size":110,"strokeWidth":1.5,"clip":true},"encoding":{"x":{"field":"tri","type":"quantitative"}}},
{"data":{"name":"obs"},"transform":[{"filter":"datum.id==8"}],"mark":{"type":"square","color":"black","size":20,"filled":true,"clip":true},"encoding":{"x":{"field":"sq","type":"quantitative"}}},
{"data":{"name":"counts"},"transform":[{"filter":"datum.id==8"}],"mark":{"type":"text","align":"left","baseline":"middle","fontSize":19},"encoding":{"x":{"datum":1.212},"text":{"field":"n"}}},
{"data":{"name":"meta"},"transform":[{"filter":"datum.id==8"}],"mark":{"type":"text","align":"left","baseline":"middle","fontSize":21},"encoding":{"x":{"datum":0.75},"y":{"datum":221},"text":{"field":"date"}}}
]},
{"width":266,"height":336,"title":{"text":"SEChina (PEM WA)","offset":1},"encoding":{"y":{"field":"p","type":"quantitative","scale":{"type":"log","domain":[200,1000],"reverse":true,"nice":false},"axis":{"values":[200,400,600,800,1000],"format":"d","labelFlush":true,"title":null}}},"layer":[
{"data":{"name":"model"},"transform":[{"filter":"datum.id==9"},{"fold":["r","g","b"],"as":["k","v"]}],"mark":{"type":"line","strokeWidth":2,"clip":true},"encoding":{"x":{"field":"v","type":"quantitative","scale":{"domain":[0,1.5],"nice":false},"axis":{"values":[0,0.375,0.75,1.125,1.5],"format":".3f","title":null,"labelFlush":false}},"color":{"field":"k","type":"nominal","scale":{"domain":["r","g","b"],"range":["#ff0000","#00dd00","#0000ff"]},"legend":null},"strokeDash":{"field":"k","type":"nominal","scale":{"domain":["r","g","b"],"range":[[1,0],[1,0],[22,4]]},"legend":null},"order":{"field":"p"}}},
{"data":{"name":"obs"},"transform":[{"filter":"datum.id==9"}],"mark":{"type":"rule","color":"black","strokeWidth":1.5,"clip":true},"encoding":{"x":{"field":"lo","type":"quantitative"},"x2":{"field":"hi"}}},
{"data":{"name":"obs"},"transform":[{"filter":"datum.id==9"}],"mark":{"type":"line","color":"black","strokeWidth":1.5,"clip":true},"encoding":{"x":{"field":"tri","type":"quantitative"},"detail":{"field":"seg","type":"nominal"},"order":{"field":"p"}}},
{"data":{"name":"obs"},"transform":[{"filter":"datum.id==9"}],"mark":{"type":"point","shape":"triangle-up","filled":false,"color":"black","size":110,"strokeWidth":1.5,"clip":true},"encoding":{"x":{"field":"tri","type":"quantitative"}}},
{"data":{"name":"obs"},"transform":[{"filter":"datum.id==9"}],"mark":{"type":"square","color":"black","size":20,"filled":true,"clip":true},"encoding":{"x":{"field":"sq","type":"quantitative"}}},
{"data":{"name":"counts"},"transform":[{"filter":"datum.id==9"}],"mark":{"type":"text","align":"left","baseline":"middle","fontSize":19},"encoding":{"x":{"datum":1.212},"text":{"field":"n"}}},
{"data":{"name":"meta"},"transform":[{"filter":"datum.id==9"}],"mark":{"type":"text","align":"left","baseline":"middle","fontSize":21},"encoding":{"x":{"datum":0.75},"y":{"datum":221},"text":{"field":"date"}}}
]},
{"width":266,"height":336,"title":"Western Pacific (PEM WA)","encoding":{"y":{"field":"p","type":"quantitative","scale":{"type":"log","domain":[200,1000],"reverse":true,"nice":false},"axis":{"values":[200,400,600,800,1000],"format":"d","labelFlush":true,"title":null}}},"layer":[
{"data":{"name":"model"},"transform":[{"filter":"datum.id==10"},{"fold":["r","g","b"],"as":["k","v"]}],"mark":{"type":"line","strokeWidth":2,"clip":true},"encoding":{"x":{"field":"v","type":"quantitative","scale":{"domain":[0,1],"nice":false},"axis":{"values":[0,0.25,0.5,0.75,1],"format":".2f","title":null,"labelFlush":false}},"color":{"field":"k","type":"nominal","scale":{"domain":["r","g","b"],"range":["#ff0000","#00dd00","#0000ff"]},"legend":null},"strokeDash":{"field":"k","type":"nominal","scale":{"domain":["r","g","b"],"range":[[1,0],[1,0],[22,4]]},"legend":null},"order":{"field":"p"}}},
{"data":{"name":"obs"},"transform":[{"filter":"datum.id==10"}],"mark":{"type":"rule","color":"black","strokeWidth":1.5,"clip":true},"encoding":{"x":{"field":"lo","type":"quantitative"},"x2":{"field":"hi"}}},
{"data":{"name":"obs"},"transform":[{"filter":"datum.id==10"}],"mark":{"type":"line","color":"black","strokeWidth":1.5,"clip":true},"encoding":{"x":{"field":"tri","type":"quantitative"},"detail":{"field":"seg","type":"nominal"},"order":{"field":"p"}}},
{"data":{"name":"obs"},"transform":[{"filter":"datum.id==10"}],"mark":{"type":"point","shape":"triangle-up","filled":false,"color":"black","size":110,"strokeWidth":1.5,"clip":true},"encoding":{"x":{"field":"tri","type":"quantitative"}}},
{"data":{"name":"obs"},"transform":[{"filter":"datum.id==10"}],"mark":{"type":"square","color":"black","size":20,"filled":true,"clip":true},"encoding":{"x":{"field":"sq","type":"quantitative"}}},
{"data":{"name":"counts"},"transform":[{"filter":"datum.id==10"}],"mark":{"type":"text","align":"left","baseline":"middle","fontSize":19},"encoding":{"x":{"datum":0.808},"text":{"field":"n"}}},
{"data":{"name":"meta"},"transform":[{"filter":"datum.id==10"}],"mark":{"type":"text","align":"left","baseline":"middle","fontSize":21},"encoding":{"x":{"datum":0.5},"y":{"datum":221},"text":{"field":"date"}}}
]},
{"width":266,"height":336,"title":"Hawaii Pacific (PEM WA)","encoding":{"y":{"field":"p","type":"quantitative","scale":{"type":"log","domain":[200,1000],"reverse":true,"nice":false},"axis":{"values":[200,400,600,800,1000],"format":"d","labelFlush":true,"title":null}}},"layer":[
{"data":{"name":"model"},"transform":[{"filter":"datum.id==11"},{"fold":["r","g","b"],"as":["k","v"]}],"mark":{"type":"line","strokeWidth":2,"clip":true},"encoding":{"x":{"field":"v","type":"quantitative","scale":{"domain":[0,1.5],"nice":false},"axis":{"values":[0,0.375,0.75,1.125,1.5],"format":".3f","title":null,"labelFlush":false}},"color":{"field":"k","type":"nominal","scale":{"domain":["r","g","b"],"range":["#ff0000","#00dd00","#0000ff"]},"legend":null},"strokeDash":{"field":"k","type":"nominal","scale":{"domain":["r","g","b"],"range":[[1,0],[1,0],[22,4]]},"legend":null},"order":{"field":"p"}}},
{"data":{"name":"obs"},"transform":[{"filter":"datum.id==11"}],"mark":{"type":"rule","color":"black","strokeWidth":1.5,"clip":true},"encoding":{"x":{"field":"lo","type":"quantitative"},"x2":{"field":"hi"}}},
{"data":{"name":"obs"},"transform":[{"filter":"datum.id==11"}],"mark":{"type":"line","color":"black","strokeWidth":1.5,"clip":true},"encoding":{"x":{"field":"tri","type":"quantitative"},"detail":{"field":"seg","type":"nominal"},"order":{"field":"p"}}},
{"data":{"name":"obs"},"transform":[{"filter":"datum.id==11"}],"mark":{"type":"point","shape":"triangle-up","filled":false,"color":"black","size":110,"strokeWidth":1.5,"clip":true},"encoding":{"x":{"field":"tri","type":"quantitative"}}},
{"data":{"name":"obs"},"transform":[{"filter":"datum.id==11"}],"mark":{"type":"square","color":"black","size":20,"filled":true,"clip":true},"encoding":{"x":{"field":"sq","type":"quantitative"}}},
{"data":{"name":"counts"},"transform":[{"filter":"datum.id==11"}],"mark":{"type":"text","align":"left","baseline":"middle","fontSize":19},"encoding":{"x":{"datum":1.212},"text":{"field":"n"}}},
{"data":{"name":"meta"},"transform":[{"filter":"datum.id==11"}],"mark":{"type":"text","align":"left","baseline":"middle","fontSize":21},"encoding":{"x":{"datum":0.75},"y":{"datum":221},"text":{"field":"date"}}}
]},
{"width":266,"height":336,"title":"Japan Coast","encoding":{"y":{"field":"p","type":"quantitative","scale":{"type":"log","domain":[200,1000],"reverse":true,"nice":false},"axis":{"values":[200,400,600,800,1000],"format":"d","labelFlush":true,"title":null}}},"layer":[
{"data":{"name":"model"},"transform":[{"filter":"datum.id==12"},{"fold":["r","g","b"],"as":["k","v"]}],"mark":{"type":"line","strokeWidth":2,"clip":true},"encoding":{"x":{"field":"v","type":"quantitative","scale":{"domain":[0,1],"nice":false},"axis":{"values":[0,0.25,0.5,0.75,1],"format":".2f","title":null,"labelFlush":false}},"color":{"field":"k","type":"nominal","scale":{"domain":["r","g","b"],"range":["#ff0000","#00dd00","#0000ff"]},"legend":null},"strokeDash":{"field":"k","type":"nominal","scale":{"domain":["r","g","b"],"range":[[1,0],[1,0],[22,4]]},"legend":null},"order":{"field":"p"}}},
{"data":{"name":"obs"},"transform":[{"filter":"datum.id==12"}],"mark":{"type":"rule","color":"black","strokeWidth":1.5,"clip":true},"encoding":{"x":{"field":"lo","type":"quantitative"},"x2":{"field":"hi"}}},
{"data":{"name":"obs"},"transform":[{"filter":"datum.id==12"}],"mark":{"type":"line","color":"black","strokeWidth":1.5,"clip":true},"encoding":{"x":{"field":"tri","type":"quantitative"},"detail":{"field":"seg","type":"nominal"},"order":{"field":"p"}}},
{"data":{"name":"obs"},"transform":[{"filter":"datum.id==12"}],"mark":{"type":"point","shape":"triangle-up","filled":false,"color":"black","size":110,"strokeWidth":1.5,"clip":true},"encoding":{"x":{"field":"tri","type":"quantitative"}}},
{"data":{"name":"obs"},"transform":[{"filter":"datum.id==12"}],"mark":{"type":"square","color":"black","size":20,"filled":true,"clip":true},"encoding":{"x":{"field":"sq","type":"quantitative"}}},
{"data":{"name":"counts"},"transform":[{"filter":"datum.id==12"}],"mark":{"type":"text","align":"left","baseline":"middle","fontSize":19},"encoding":{"x":{"datum":0.808},"text":{"field":"n"}}},
{"data":{"name":"meta"},"transform":[{"filter":"datum.id==12"}],"mark":{"type":"text","align":"left","baseline":"middle","fontSize":21},"encoding":{"x":{"datum":0.5},"y":{"datum":221},"text":{"field":"date"}}}
]},
{"width":266,"height":336,"title":"SEChina (PEM WB)","encoding":{"y":{"field":"p","type":"quantitative","scale":{"type":"log","domain":[200,1000],"reverse":true,"nice":false},"axis":{"values":[200,400,600,800,1000],"format":"d","labelFlush":true,"title":null}}},"layer":[
{"data":{"name":"model"},"transform":[{"filter":"datum.id==13"},{"fold":["r","g","b"],"as":["k","v"]}],"mark":{"type":"line","strokeWidth":2,"clip":true},"encoding":{"x":{"field":"v","type":"quantitative","scale":{"domain":[0,1],"nice":false},"axis":{"values":[0,0.25,0.5,0.75,1],"format":".2f","title":null,"labelFlush":false}},"color":{"field":"k","type":"nominal","scale":{"domain":["r","g","b"],"range":["#ff0000","#00dd00","#0000ff"]},"legend":null},"strokeDash":{"field":"k","type":"nominal","scale":{"domain":["r","g","b"],"range":[[1,0],[1,0],[22,4]]},"legend":null},"order":{"field":"p"}}},
{"data":{"name":"obs"},"transform":[{"filter":"datum.id==13"}],"mark":{"type":"rule","color":"black","strokeWidth":1.5,"clip":true},"encoding":{"x":{"field":"lo","type":"quantitative"},"x2":{"field":"hi"}}},
{"data":{"name":"obs"},"transform":[{"filter":"datum.id==13"}],"mark":{"type":"line","color":"black","strokeWidth":1.5,"clip":true},"encoding":{"x":{"field":"tri","type":"quantitative"},"detail":{"field":"seg","type":"nominal"},"order":{"field":"p"}}},
{"data":{"name":"obs"},"transform":[{"filter":"datum.id==13"}],"mark":{"type":"point","shape":"triangle-up","filled":false,"color":"black","size":110,"strokeWidth":1.5,"clip":true},"encoding":{"x":{"field":"tri","type":"quantitative"}}},
{"data":{"name":"obs"},"transform":[{"filter":"datum.id==13"}],"mark":{"type":"square","color":"black","size":20,"filled":true,"clip":true},"encoding":{"x":{"field":"sq","type":"quantitative"}}},
{"data":{"name":"counts"},"transform":[{"filter":"datum.id==13"}],"mark":{"type":"text","align":"left","baseline":"middle","fontSize":19},"encoding":{"x":{"datum":0.808},"text":{"field":"n"}}},
{"data":{"name":"meta"},"transform":[{"filter":"datum.id==13"}],"mark":{"type":"text","align":"left","baseline":"middle","fontSize":21},"encoding":{"x":{"datum":0.5},"y":{"datum":221},"text":{"field":"date"}}}
]},
{"width":266,"height":336,"title":"MidWPacific (PEM WB)","encoding":{"y":{"field":"p","type":"quantitative","scale":{"type":"log","domain":[200,1000],"reverse":true,"nice":false},"axis":{"values":[200,400,600,800,1000],"format":"d","labelFlush":true,"title":null}}},"layer":[
{"data":{"name":"model"},"transform":[{"filter":"datum.id==14"},{"fold":["r","g","b"],"as":["k","v"]}],"mark":{"type":"line","strokeWidth":2,"clip":true},"encoding":{"x":{"field":"v","type":"quantitative","scale":{"domain":[0,1],"nice":false},"axis":{"values":[0,0.25,0.5,0.75,1],"format":".2f","title":null,"labelFlush":false}},"color":{"field":"k","type":"nominal","scale":{"domain":["r","g","b"],"range":["#ff0000","#00dd00","#0000ff"]},"legend":null},"strokeDash":{"field":"k","type":"nominal","scale":{"domain":["r","g","b"],"range":[[1,0],[1,0],[22,4]]},"legend":null},"order":{"field":"p"}}},
{"data":{"name":"obs"},"transform":[{"filter":"datum.id==14"}],"mark":{"type":"rule","color":"black","strokeWidth":1.5,"clip":true},"encoding":{"x":{"field":"lo","type":"quantitative"},"x2":{"field":"hi"}}},
{"data":{"name":"obs"},"transform":[{"filter":"datum.id==14"}],"mark":{"type":"line","color":"black","strokeWidth":1.5,"clip":true},"encoding":{"x":{"field":"tri","type":"quantitative"},"detail":{"field":"seg","type":"nominal"},"order":{"field":"p"}}},
{"data":{"name":"obs"},"transform":[{"filter":"datum.id==14"}],"mark":{"type":"point","shape":"triangle-up","filled":false,"color":"black","size":110,"strokeWidth":1.5,"clip":true},"encoding":{"x":{"field":"tri","type":"quantitative"}}},
{"data":{"name":"obs"},"transform":[{"filter":"datum.id==14"}],"mark":{"type":"square","color":"black","size":20,"filled":true,"clip":true},"encoding":{"x":{"field":"sq","type":"quantitative"}}},
{"data":{"name":"counts"},"transform":[{"filter":"datum.id==14"}],"mark":{"type":"text","align":"left","baseline":"middle","fontSize":19},"encoding":{"x":{"datum":0.808},"text":{"field":"n"}}},
{"data":{"name":"meta"},"transform":[{"filter":"datum.id==14"}],"mark":{"type":"text","align":"left","baseline":"middle","fontSize":21},"encoding":{"x":{"datum":0.5},"y":{"datum":221},"text":{"field":"date"}}}
]},
{"width":266,"height":336,"title":{"text":"WTropPac (PEM WB)","offset":1},"encoding":{"y":{"field":"p","type":"quantitative","scale":{"type":"log","domain":[200,1000],"reverse":true,"nice":false},"axis":{"values":[200,400,600,800,1000],"format":"d","labelFlush":true,"title":null}}},"layer":[
{"data":{"name":"model"},"transform":[{"filter":"datum.id==15"},{"fold":["r","g","b"],"as":["k","v"]}],"mark":{"type":"line","strokeWidth":2,"clip":true},"encoding":{"x":{"field":"v","type":"quantitative","scale":{"domain":[0,1],"nice":false},"axis":{"values":[0,0.25,0.5,0.75,1],"format":".2f","title":null,"labelFlush":false}},"color":{"field":"k","type":"nominal","scale":{"domain":["r","g","b"],"range":["#ff0000","#00dd00","#0000ff"]},"legend":null},"strokeDash":{"field":"k","type":"nominal","scale":{"domain":["r","g","b"],"range":[[1,0],[1,0],[22,4]]},"legend":null},"order":{"field":"p"}}},
{"data":{"name":"obs"},"transform":[{"filter":"datum.id==15"}],"mark":{"type":"rule","color":"black","strokeWidth":1.5,"clip":true},"encoding":{"x":{"field":"lo","type":"quantitative"},"x2":{"field":"hi"}}},
{"data":{"name":"obs"},"transform":[{"filter":"datum.id==15"}],"mark":{"type":"line","color":"black","strokeWidth":1.5,"clip":true},"encoding":{"x":{"field":"tri","type":"quantitative"},"detail":{"field":"seg","type":"nominal"},"order":{"field":"p"}}},
{"data":{"name":"obs"},"transform":[{"filter":"datum.id==15"}],"mark":{"type":"point","shape":"triangle-up","filled":false,"color":"black","size":110,"strokeWidth":1.5,"clip":true},"encoding":{"x":{"field":"tri","type":"quantitative"}}},
{"data":{"name":"obs"},"transform":[{"filter":"datum.id==15"}],"mark":{"type":"square","color":"black","size":20,"filled":true,"clip":true},"encoding":{"x":{"field":"sq","type":"quantitative"}}},
{"data":{"name":"counts"},"transform":[{"filter":"datum.id==15"}],"mark":{"type":"text","align":"left","baseline":"middle","fontSize":19},"encoding":{"x":{"datum":0.808},"text":{"field":"n"}}},
{"data":{"name":"meta"},"transform":[{"filter":"datum.id==15"}],"mark":{"type":"text","align":"left","baseline":"middle","fontSize":21},"encoding":{"x":{"datum":0.5},"y":{"datum":221},"text":{"field":"date"}}}
]},
{"width":266,"height":336,"title":{"text":"New Guinea (PEM WB)","offset":1},"encoding":{"y":{"field":"p","type":"quantitative","scale":{"type":"log","domain":[200,1000],"reverse":true,"nice":false},"axis":{"values":[200,400,600,800,1000],"format":"d","labelFlush":true,"title":null}}},"layer":[
{"data":{"name":"model"},"transform":[{"filter":"datum.id==16"},{"fold":["r","g","b"],"as":["k","v"]}],"mark":{"type":"line","strokeWidth":2,"clip":true},"encoding":{"x":{"field":"v","type":"quantitative","scale":{"domain":[0,1],"nice":false},"axis":{"values":[0,0.25,0.5,0.75,1],"format":".2f","title":null,"labelFlush":false}},"color":{"field":"k","type":"nominal","scale":{"domain":["r","g","b"],"range":["#ff0000","#00dd00","#0000ff"]},"legend":null},"strokeDash":{"field":"k","type":"nominal","scale":{"domain":["r","g","b"],"range":[[1,0],[1,0],[22,4]]},"legend":null},"order":{"field":"p"}}},
{"data":{"name":"obs"},"transform":[{"filter":"datum.id==16"}],"mark":{"type":"rule","color":"black","strokeWidth":1.5,"clip":true},"encoding":{"x":{"field":"lo","type":"quantitative"},"x2":{"field":"hi"}}},
{"data":{"name":"obs"},"transform":[{"filter":"datum.id==16"}],"mark":{"type":"line","color":"black","strokeWidth":1.5,"clip":true},"encoding":{"x":{"field":"tri","type":"quantitative"},"detail":{"field":"seg","type":"nominal"},"order":{"field":"p"}}},
{"data":{"name":"obs"},"transform":[{"filter":"datum.id==16"}],"mark":{"type":"point","shape":"triangle-up","filled":false,"color":"black","size":110,"strokeWidth":1.5,"clip":true},"encoding":{"x":{"field":"tri","type":"quantitative"}}},
{"data":{"name":"obs"},"transform":[{"filter":"datum.id==16"}],"mark":{"type":"square","color":"black","size":20,"filled":true,"clip":true},"encoding":{"x":{"field":"sq","type":"quantitative"}}},
{"data":{"name":"counts"},"transform":[{"filter":"datum.id==16"}],"mark":{"type":"text","align":"left","baseline":"middle","fontSize":19},"encoding":{"x":{"datum":0.808},"text":{"field":"n"}}},
{"data":{"name":"meta"},"transform":[{"filter":"datum.id==16"}],"mark":{"type":"text","align":"left","baseline":"middle","fontSize":21},"encoding":{"x":{"datum":0.5},"y":{"datum":221},"text":{"field":"date"}}}
]}
]},
{"width": 1250, "height": 34, "view": {"stroke": null}, "data": {"values": [{"t": "HNO3 (ppb)"}]}, "mark": {"type": "text", "fontSize": 30, "fontWeight": "bold", "align": "center", "baseline": "middle"}, "encoding": {"text": {"field": "t"}}}
],
"config": {
"font": "Liberation Sans",
"view": {"stroke": "black", "strokeWidth": 3},
"axis": {"domain": false, "grid": false, "labelFontSize": 19, "labelColor": "black", "labelFont": "Liberation Sans", "tickColor": "black", "tickWidth": 2, "tickSize": -9, "labelPadding": 14, "labelOverlap": false},
"axisY": {"labelFlushOffset": 2},
"title": {"fontSize": 23, "fontWeight": "normal", "color": "black", "offset": 4, "font": "Liberation Sans"},
"text": {"font": "Liberation Sans", "color": "black"}
}
}
